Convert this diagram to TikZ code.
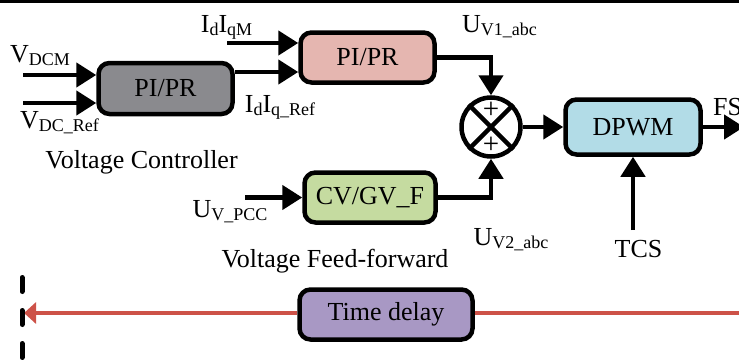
\documentclass[tikz,border=0pt]{standalone}
\usepackage{fontspec}
\setmainfont{Liberation Serif}
\usetikzlibrary{arrows.meta}
\definecolor{boxGray}{RGB}{138, 138, 142}
\definecolor{boxPink}{RGB}{229, 182, 176}
\definecolor{boxGreen}{RGB}{197, 219, 160}
\definecolor{boxBlue}{RGB}{178, 220, 231}
\definecolor{boxPurple}{RGB}{168, 152, 196}
\definecolor{delayRed}{RGB}{205, 82, 72}
\newcommand{\lowtx}[1]{\raisebox{-3pt}{\fontsize{18}{18}\selectfont #1}}

\tikzset{
  blockbox/.style={draw, line width=4.5pt, rounded corners=11pt, inner sep=0pt,
    minimum width=134pt, minimum height=51pt, font=\fontsize{26}{28}\selectfont},
  lbl/.style={inner sep=0pt, font=\fontsize{26}{28}\selectfont},
  sig/.style={line width=4.5pt, -{Triangle[length=20pt,width=24pt]}},
}

\begin{document}
\begin{tikzpicture}[x=1pt, y=-1pt]
  \clip (0,0) rectangle (739,359);
  \fill (0,0) rectangle (739,2.5);

  % blocks
  \node[blockbox, fill=boxGray] (ctrl) at (165.5,88.5) {PI/PR};
  \node[blockbox, fill=boxPink, minimum height=50pt] (pipr) at (367.5,57.5) {PI/PR};
  \node[blockbox, fill=boxGreen, minimum width=131pt, minimum height=50pt] (ff) at (370,197.5) {CV/GV\_F};
  \node[blockbox, fill=boxBlue, minimum width=135pt, minimum height=55pt] (pwm) at (633,127) {DPWM};
  \node[blockbox, fill=boxPurple, minimum width=173pt, minimum height=50pt] (delay) at (386,314.5) {Time delay};
  \node[circle, draw, fill=white, line width=4.5pt, minimum size=59pt, inner sep=0pt] (sum) at (491,127) {};
  \draw[line width=4.5pt] (sum.north west) -- (sum.south east);
  \draw[line width=4.5pt] (sum.north east) -- (sum.south west);
  \node[lbl, font=\fontsize{29}{29}\selectfont] (plusA) at (491,110) {+};
  \node[lbl, font=\fontsize{29}{29}\selectfont] (plusB) at (491,145) {+};

  % labels
  \node[lbl, anchor=base] (lVdcm) at (40,62) {V\lowtx{DCM}};
  \node[lbl, anchor=base] (lVref) at (59.5,128) {V\lowtx{DC\_Ref}};
  \node[lbl, anchor=base] (lIqm) at (226.5,32) {I\lowtx{d}I\lowtx{qM}};
  \node[lbl, anchor=base] (lIref) at (280,112) {I\lowtx{d}I\lowtx{q\_Ref}};
  \node[lbl, anchor=base] (lU1) at (499.5,32) {U\lowtx{V1\_abc}};
  \node[lbl, anchor=base] (lUpcc) at (230,217) {U\lowtx{V\_PCC}};
  \node[lbl, anchor=base] (lU2) at (511,245) {U\lowtx{V2\_abc}};
  \node[lbl, anchor=base] (lTcs) at (638.5,257) {TCS};
  \node[lbl, anchor=base west] (lFs) at (713,115) {FS};
  \node[lbl, anchor=base] (lCtrl) at (141.5,168) {Voltage Controller};
  \node[lbl, anchor=base] (lFf) at (335,267) {Voltage Feed-forward};

  % connectors
  \coordinate (vdcmIn) at (23,75);
  \coordinate (vrefIn) at (23,103);
  \coordinate (idIn) at (227,43);
  \coordinate (refRow) at (0,72);
  \coordinate (pccIn) at (245,197.5);
  \coordinate (tcsIn) at (633,230);
  \coordinate (fsOut) at (744,127);
  \draw[sig] (vdcmIn) -- (vdcmIn -| ctrl.west);
  \draw[sig] (vrefIn) -- (vrefIn -| ctrl.west);
  \draw[sig] (ctrl.east |- refRow) -- (pipr.west |- refRow);
  \draw[sig] (idIn) -- (idIn -| pipr.west);
  \draw[sig] (pccIn) -- (ff.west);
  \draw[sig] (pipr.east) -| (sum.north);
  \draw[sig] (ff.east) -| (sum.south);
  \draw[sig] (sum.east) -- (pwm.west);
  \draw[sig] (pwm.east) -- (fsOut);
  \draw[sig] (tcsIn) -- (pwm.south);

  % time delay line
  \coordinate (delayIn) at (744,313);
  \coordinate (delayOut) at (24,313);
  \draw[delayRed, line width=3.5pt] (delayIn) -- (delayIn -| delay.east);
  \draw[delayRed, line width=3.5pt, -{Triangle[length=12pt,width=21pt]}] (delay.west |- delayOut) -- (delayOut);
  \draw[line width=5pt, line cap=round, dash pattern=on 14pt off 19pt] (22,277.5) -- (22,380);
\end{tikzpicture}
\end{document}
